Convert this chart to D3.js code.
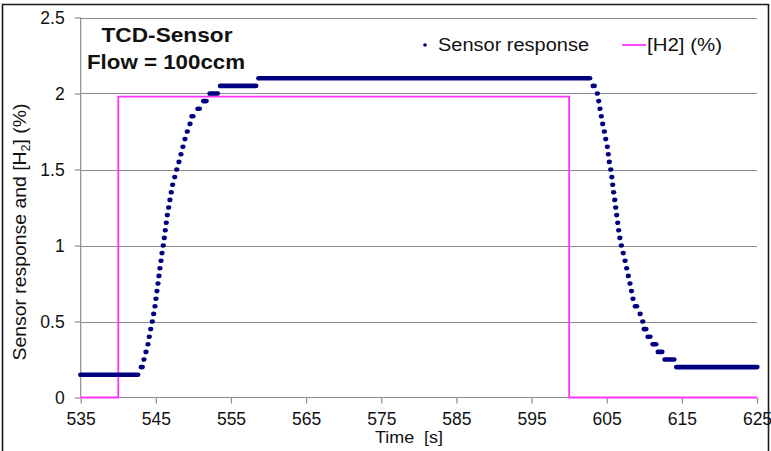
<!DOCTYPE html>
<html>
<head>
<meta charset="utf-8">
<script src="https://cdn.jsdelivr.net/npm/d3@7"></script>
<style>
  html, body { margin: 0; padding: 0; background: #fff; }
  svg { display: block; font-family: "Liberation Sans", Arial, sans-serif; }
</style>
</head>
<body>
<svg id="chart" width="771" height="451"></svg>
<script>
// ---- data ----
const xTicks = [535, 545, 555, 565, 575, 585, 595, 605, 615, 625];
const yTicks = [0, 0.5, 1, 1.5, 2, 2.5];
const yTickLabels = ["0", "0.5", "1", "1.5", "2", "2.5"];

// Sensor response: quantized levels (0.05 steps) with the time span each level is held
const sensorLevel = [0.15, 0.2, 0.25, 0.3, 0.35, 0.4, 0.45, 0.5, 0.55, 0.6, 0.65, 0.7, 0.75, 0.8, 0.85, 0.9, 0.95, 1.0,
  1.05, 1.1, 1.15, 1.2, 1.25, 1.3, 1.35, 1.4, 1.45, 1.5, 1.55, 1.6, 1.65, 1.7, 1.75, 1.8, 1.85, 1.9, 1.95, 2.0, 2.05, 2.1,
  2.05, 2.0, 1.95, 1.9, 1.85, 1.8, 1.75, 1.7, 1.65, 1.6, 1.55, 1.5, 1.45, 1.4, 1.35, 1.3, 1.25, 1.2, 1.15, 1.1, 1.05, 1.0,
  0.95, 0.9, 0.85, 0.8, 0.75, 0.7, 0.65, 0.6, 0.55, 0.5, 0.45, 0.4, 0.35, 0.3, 0.25, 0.2];
const sensorStart = [535, 543.05, 543.42, 543.69, 543.96, 544.13, 544.32, 544.53, 544.71, 544.89, 545.02, 545.15, 545.29, 545.42, 545.55, 545.69, 545.82, 545.99,
  546.13, 546.26, 546.39, 546.53, 546.71, 546.88, 547.06, 547.24, 547.51, 547.78, 548.08, 548.35, 548.61, 548.88, 549.19, 549.55, 549.8, 550.6, 551.35, 552.2, 553.6, 558.7,
  603.2, 603.76, 603.94, 604.11, 604.29, 604.47, 604.69, 604.87, 605.09, 605.22, 605.35, 605.54, 605.68, 605.8, 605.93, 606.07, 606.2, 606.33, 606.47, 606.6, 606.75, 606.95,
  607.2, 607.45, 607.66, 607.88, 608.1, 608.3, 608.5, 608.8, 609.45, 609.8, 609.98, 610.5, 611.15, 611.85, 612.75, 614.3];
const sensorEnd = [542.6, 543.2, 543.42, 543.69, 543.96, 544.13, 544.32, 544.53, 544.71, 544.89, 545.02, 545.15, 545.29, 545.42, 545.55, 545.69, 545.82, 545.99,
  546.13, 546.26, 546.39, 546.53, 546.71, 546.88, 547.06, 547.24, 547.51, 547.78, 548.08, 548.35, 548.61, 548.88, 549.19, 549.55, 549.95, 550.8, 551.7, 553.2, 558.3, 602.75,
  603.35, 603.76, 603.94, 604.11, 604.29, 604.47, 604.69, 604.87, 605.09, 605.22, 605.35, 605.54, 605.68, 605.8, 605.93, 606.07, 606.2, 606.33, 606.47, 606.6, 606.75, 606.95,
  607.2, 607.45, 607.66, 607.88, 608.1, 608.3, 608.5, 609.0, 609.45, 609.8, 610.23, 610.77, 611.55, 612.35, 613.95, 625];

// [H2] (%) step signal
const h2Time = [535, 540, 540, 600, 600, 625];
const h2Value = [0, 0, 1.98, 1.98, 0, 0];

// ---- layout ----
const svg = d3.select("#chart");
const x = d3.scaleLinear().domain([535, 625]).range([80.7, 757]);
const y = d3.scaleLinear().domain([0, 2.5]).range([397.5, 17.5]);
const gridColor = "#8c8c8c";
const navy = "#000080";
const magenta = "#ff33ff";
const fontFam = "Liberation Sans, Arial, sans-serif";

// outer frame
svg.append("path").attr("d", "M2.5,460 V4.5 H768.5 V460")
  .attr("fill", "none").attr("stroke", "#1a1a1a").attr("stroke-width", 1.6);

// gridlines
svg.append("g").selectAll("line").data(yTicks.filter(d => d > 0)).join("line")
  .attr("x1", x(535)).attr("x2", x(625))
  .attr("y1", d => Math.round(y(d)) + 0.5).attr("y2", d => Math.round(y(d)) + 0.5)
  .attr("stroke", gridColor).attr("stroke-width", 1.2);

// y axis
const yAxis = d3.axisLeft(y).tickValues(yTicks).tickFormat((d, i) => yTickLabels[i]).tickSize(6).tickPadding(10);
const gy = svg.append("g").attr("transform", `translate(${x(535)},0)`).call(yAxis);
gy.selectAll("path, line").attr("stroke", gridColor).attr("stroke-width", 1.2);
gy.select(".domain").attr("d", `M0,${y(2.5)}V${y(0)}`);
gy.selectAll("text").attr("font-size", 17.5).attr("fill", "#111").style("font-family", fontFam);

// x axis
const xAxis = d3.axisBottom(x).tickValues(xTicks).tickFormat(d3.format("d")).tickSize(6).tickPadding(9);
const gx = svg.append("g").attr("transform", `translate(0,${y(0)})`).call(xAxis);
gx.selectAll("path, line").attr("stroke", gridColor).attr("stroke-width", 1.2);
gx.select(".domain").attr("d", `M${x(535)},0H${x(625)}`);
gx.selectAll("text").attr("font-size", 17.5).attr("fill", "#111").style("font-family", fontFam);

// H2 line
const h2Data = h2Time.map((t, i) => [t, h2Value[i]]);
svg.append("path").datum(h2Data)
  .attr("d", d3.line().x(d => x(d[0])).y(d => y(d[1])))
  .attr("fill", "none").attr("stroke", magenta).attr("stroke-width", 1.8);

// sensor response markers (runs of dense dots drawn as pills)
const r = 2.3;
const runs = sensorLevel.map((v, i) => ({ v, t0: sensorStart[i], t1: sensorEnd[i] }));
svg.append("g").selectAll("rect").data(runs).join("rect")
  .attr("x", d => x(d.t0) - r - 0.3)
  .attr("y", d => y(d.v) - r)
  .attr("width", d => x(d.t1) - x(d.t0) + 2 * r + 0.6)
  .attr("height", 2 * r)
  .attr("rx", r + 0.3).attr("ry", r)
  .attr("fill", navy);

// title
svg.append("text").attr("x", 167).attr("y", 42).attr("text-anchor", "middle")
  .attr("font-size", 21).attr("font-weight", "bold").attr("fill", "#111")
  .attr("textLength", 131).attr("lengthAdjust", "spacingAndGlyphs").text("TCD-Sensor");
svg.append("text").attr("x", 166).attr("y", 69).attr("text-anchor", "middle")
  .attr("font-size", 21).attr("font-weight", "bold").attr("fill", "#111")
  .attr("textLength", 158).attr("lengthAdjust", "spacingAndGlyphs").text("Flow = 100ccm");

// legend
svg.append("circle").attr("cx", 425).attr("cy", 45).attr("r", 1.8).attr("fill", navy);
svg.append("text").attr("x", 438).attr("y", 51).attr("font-size", 18).attr("fill", "#111")
  .attr("textLength", 151).attr("lengthAdjust", "spacingAndGlyphs").text("Sensor response");
svg.append("line").attr("x1", 622).attr("x2", 646).attr("y1", 45).attr("y2", 45)
  .attr("stroke", magenta).attr("stroke-width", 1.8);
svg.append("text").attr("x", 647).attr("y", 51).attr("font-size", 18).attr("fill", "#111")
  .attr("textLength", 75).attr("lengthAdjust", "spacingAndGlyphs").text("[H2] (%)");

// axis titles
svg.append("text").attr("x", 409).attr("y", 443).attr("text-anchor", "middle")
  .attr("font-size", 17).attr("fill", "#111").attr("xml:space", "preserve")
  .attr("textLength", 68).attr("lengthAdjust", "spacingAndGlyphs").text("Time  [s]");
const yt = svg.append("text").attr("transform", "translate(26,232) rotate(-90)")
  .attr("text-anchor", "middle").attr("font-size", 18.5).attr("fill", "#111")
  .attr("textLength", 257).attr("lengthAdjust", "spacingAndGlyphs");
yt.append("tspan").text("Sensor response and [H");
yt.append("tspan").attr("font-size", 12).attr("dy", 4).text("2");
yt.append("tspan").attr("dy", -4).text("] (%)");
</script>
</body>
</html>
